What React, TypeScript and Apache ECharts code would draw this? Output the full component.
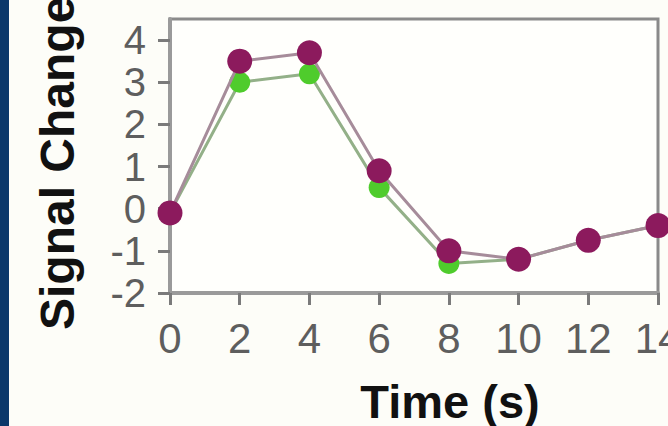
import React, { useEffect, useRef } from "react";
import * as echarts from "echarts";

const times = [0, 2, 4, 6, 8, 10, 12, 14];
const purpleValues = [-0.1, 3.5, 3.7, 0.9, -1.0, -1.2, -0.75, -0.4];
const greenValues = [-0.1, 3.0, 3.2, 0.5, -1.3, -1.2, -0.75, -0.4];
const yTickValues = [-2, -1, 0, 1, 2, 3, 4];
const xTickValues = [0, 2, 4, 6, 8, 10, 12, 14];
const xTitle = "Time (s)";
const yTitle = "Signal Change (%)";

export default function App() {
  const ref = useRef<HTMLDivElement>(null);
  useEffect(() => {
    if (!ref.current) return;
    const chart = echarts.init(ref.current, null, { renderer: "svg" });
    const font = "'Liberation Sans', Arial, sans-serif";
    chart.setOption({
      animation: false,
      backgroundColor: "#fdfdf8",
      grid: {
        left: 170,
        top: 19,
        right: 10,
        bottom: 133,
        containLabel: false,
        outerBoundsMode: "none",
        show: true,
        backgroundColor: "#fffffc",
        borderColor: "#8a8a8a",
        borderWidth: 3,
      },
      xAxis: {
        type: "value",
        min: 0,
        max: 14,
        interval: 2,
        axisLine: { show: true, onZero: false, lineStyle: { color: "#9a9a9a", width: 4 } },
        axisTick: { show: true, length: 12, lineStyle: { color: "#7a7a7a", width: 3 } },
        axisLabel: {
          customValues: xTickValues,
          fontSize: 42,
          fontFamily: font,
          color: "#5e5e5e",
          margin: 24,
          showMaxLabel: true,
          hideOverlap: false,
        },
        splitLine: { show: false },
      },
      yAxis: {
        type: "value",
        min: -2,
        max: 4.5,
        interval: 1,
        axisLine: { show: true, onZero: false, lineStyle: { color: "#9a9a9a", width: 4 } },
        axisTick: {
          show: true,
          length: 12,
          customValues: yTickValues,
          lineStyle: { color: "#7a7a7a", width: 3 },
        },
        axisLabel: {
          customValues: yTickValues,
          fontSize: 40,
          fontFamily: font,
          color: "#5e5e5e",
          margin: 24,
          hideOverlap: false,
        },
        splitLine: { show: false },
      },
      graphic: [
        {
          type: "rect",
          left: 0,
          top: 0,
          shape: { x: 0, y: 0, width: 9, height: 426 },
          style: { fill: "#0b386a" },
          z: 100,
        },
        {
          type: "text",
          x: 450,
          y: 401,
          style: {
            text: xTitle,
            fontSize: 47,
            fontWeight: "bold",
            fontFamily: font,
            fill: "#111",
            align: "center",
            verticalAlign: "middle",
          },
        },
        {
          type: "text",
          x: 57,
          y: 330,
          rotation: Math.PI / 2,
          style: {
            text: yTitle,
            fontSize: 48,
            fontWeight: "bold",
            fontFamily: font,
            fill: "#111",
            align: "left",
            verticalAlign: "middle",
          },
        },
      ],
      series: [
        {
          type: "line",
          name: "green",
          data: times.map((t, i) => [t, greenValues[i]]),
          symbol: "circle",
          symbolSize: 21,
          itemStyle: { color: "#4fcc2c" },
          lineStyle: { color: "#93b088", width: 3 },
          z: 2,
        },
        {
          type: "line",
          name: "purple",
          data: times.map((t, i) => [t, purpleValues[i]]),
          symbol: "circle",
          symbolSize: 25,
          itemStyle: { color: "#8c1a5d" },
          lineStyle: { color: "#a68c9a", width: 3 },
          z: 3,
        },
      ],
    });
    return () => chart.dispose();
  }, []);
  return (
    <div
      ref={ref}
      style={{ position: "fixed", left: 0, top: 0, width: 668, height: 426 }}
    />
  );
}
